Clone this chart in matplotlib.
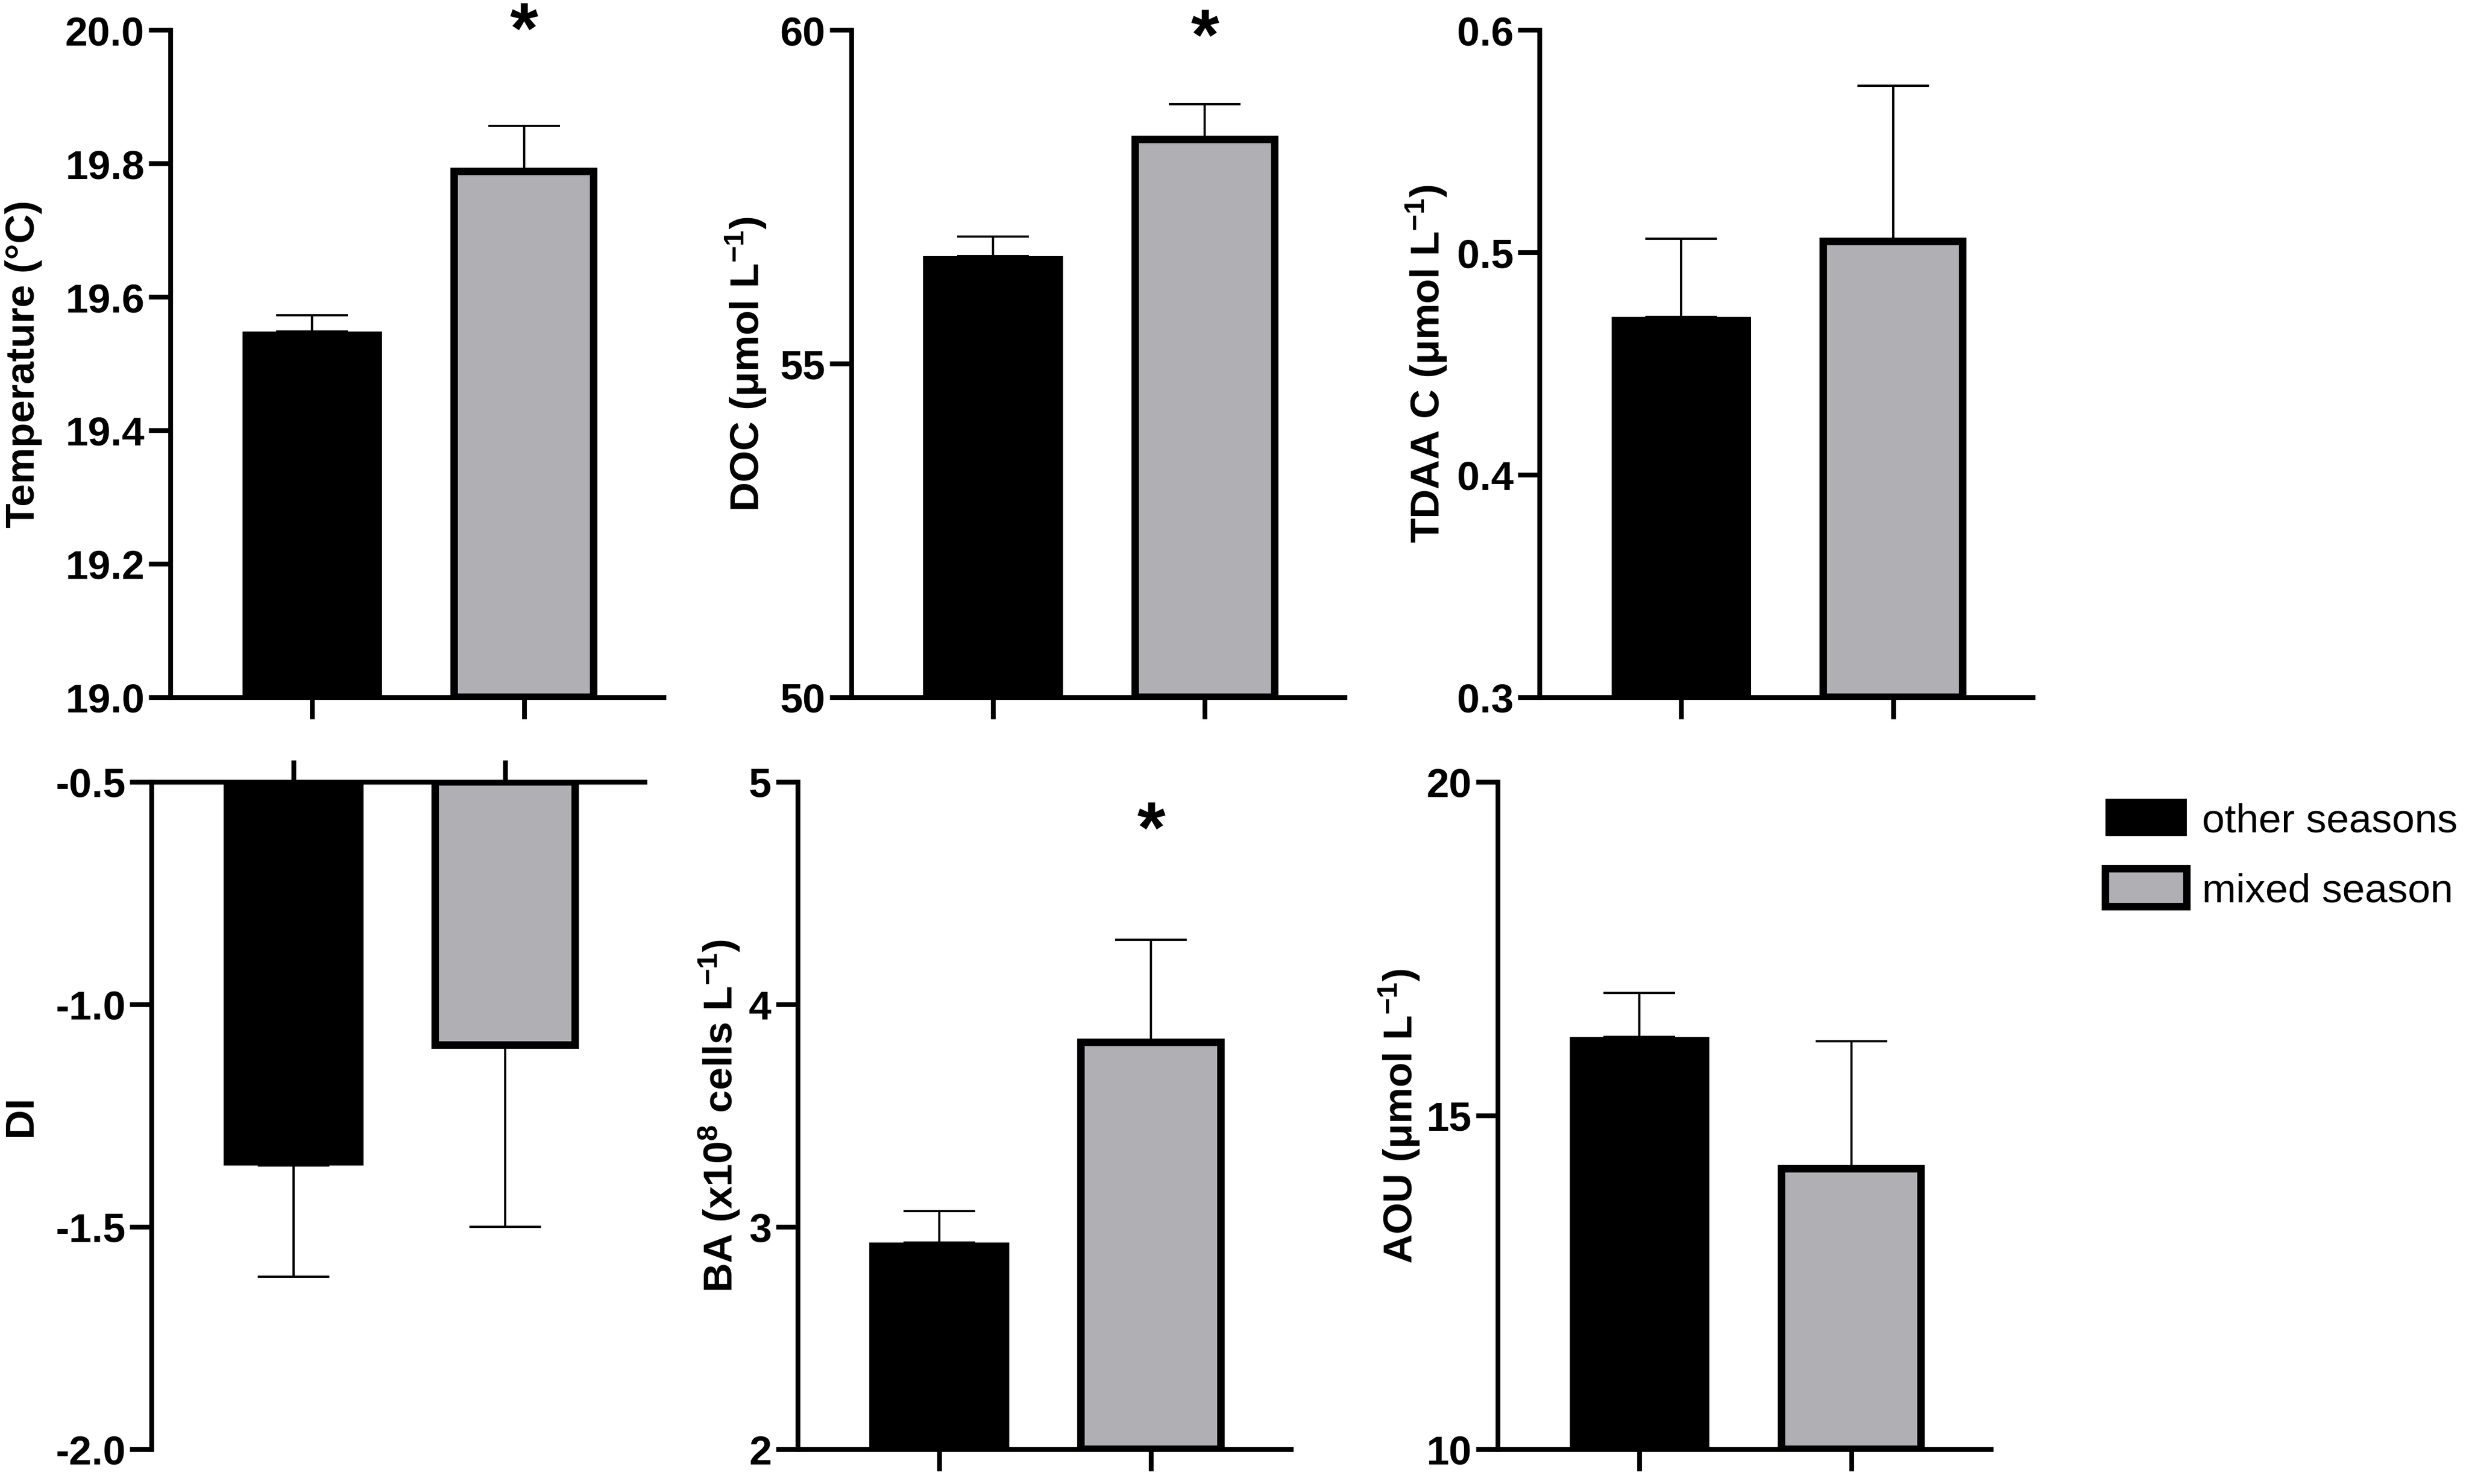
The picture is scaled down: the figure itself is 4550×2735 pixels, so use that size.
import matplotlib
matplotlib.use('Agg')
import matplotlib.pyplot as plt
from matplotlib.patches import Patch
from matplotlib.ticker import FormatStrFormatter

# fonts: Arial-like bold everywhere, mathtext for superscripts
plt.rcParams['font.family'] = ['Liberation Sans', 'DejaVu Sans']
plt.rcParams['font.weight'] = 'bold'
plt.rcParams['axes.unicode_minus'] = False
plt.rcParams['mathtext.fontset'] = 'custom'
plt.rcParams['mathtext.rm'] = 'Liberation Sans:bold'
plt.rcParams['mathtext.it'] = 'Liberation Sans:bold'
plt.rcParams['mathtext.bf'] = 'Liberation Sans:bold'

# data
groups = ['other seasons', 'mixed season']
bar_colors = ['#000000', '#b0afb4']

temp_mean = [19.548, 19.788]
temp_err = [0.024, 0.068]
doc_mean = [56.61, 58.36]
doc_err = [0.29, 0.53]
tdaa_mean = [0.471, 0.505]
tdaa_err = [0.035, 0.070]
di_mean = [-1.362, -1.092]
di_err = [0.250, 0.408]
ba_mean = [2.93, 3.83]
ba_err = [0.14, 0.46]
aou_mean = [16.18, 14.20]
aou_err = [0.66, 1.91]

# significance stars (which bar, y of star)
temp_star = [(1, 19.995)]
doc_star = [(1, 59.85)]
ba_star = [(1, 4.77)]

panels = [
    # label, mean, err, ylim, yticks, fmt, stars, labelpad, axes rect
    ('Temperature (°C)', temp_mean, temp_err, (19.0, 20.0), [19.0, 19.2, 19.4, 19.6, 19.8, 20.0], '%.1f', temp_star, 10, [0.069, 0.530, 0.1998, 0.4495]),
    ('DOC (μmol L$^{-1}$)', doc_mean, doc_err, (50, 60), [50, 55, 60], '%d', doc_star, 5, [0.3448, 0.530, 0.1998, 0.4495]),
    ('TDAA C (μmol L$^{-1}$)', tdaa_mean, tdaa_err, (0.3, 0.6), [0.3, 0.4, 0.5, 0.6], '%.1f', [], 3.5, [0.6235, 0.530, 0.1998, 0.4495]),
    ('DI', di_mean, di_err, (-2.0, -0.5), [-2.0, -1.5, -1.0, -0.5], '%.1f', [], 7, [0.0614, 0.0234, 0.1998, 0.4496]),
    ('BA (x10$^{8}$ cells L$^{-1}$)', ba_mean, ba_err, (2, 5), [2, 3, 4, 5], '%d', ba_star, 3, [0.323, 0.0234, 0.1998, 0.4496]),
    ('AOU (μmol L$^{-1}$)', aou_mean, aou_err, (10, 20), [10, 15, 20], '%d', [], 2, [0.6066, 0.0234, 0.1998, 0.4496]),
]

fig = plt.figure(figsize=(4550 / 300, 2736 / 300), dpi=300)

xpos = [0, 1]
for label, mean, err, ylim, yticks, fmt, stars, lpad, rect in panels:
    ax = fig.add_axes(rect)
    negative = ylim[1] <= 0
    base = ylim[1] if negative else ylim[0]

    heights = [m - base for m in mean]
    ax.bar(xpos, heights, bottom=base, width=0.66, color=bar_colors,
           edgecolor='black', linewidth=[0, 3.3], zorder=3)

    # one-sided error bars
    zeros = [0, 0]
    yerr = [err, zeros] if negative else [zeros, err]
    ax.errorbar(xpos, mean, yerr=yerr, fmt='none', ecolor='black',
                elinewidth=1.0, capsize=15.8, capthick=1.0, zorder=2)

    for xi, ys in stars:
        ax.text(xi, ys, '*', ha='center', va='center', fontsize=32,
                fontweight='bold', clip_on=False)

    ax.set_xlim(-0.67, 1.66)
    ax.set_ylim(*ylim)
    ax.set_yticks(yticks)
    ax.yaxis.set_major_formatter(FormatStrFormatter(fmt))
    ax.set_xticks(xpos)
    ax.set_xticklabels([])
    ax.set_ylabel(label, fontsize=18, fontweight='bold', labelpad=lpad)

    ax.spines['right'].set_visible(False)
    if negative:
        ax.spines['bottom'].set_visible(False)
        ax.xaxis.tick_top()
    else:
        ax.spines['top'].set_visible(False)
    for s in ax.spines.values():
        s.set_linewidth(2.1)
    ax.tick_params(axis='both', direction='out', length=9.5, width=2.1,
                   labelsize=18, pad=2)
    ax.tick_params(axis='x', labeltop=False, labelbottom=False)

# legend
handles = [Patch(facecolor=bar_colors[0], edgecolor='black', linewidth=0),
           Patch(facecolor=bar_colors[1], edgecolor='black', linewidth=3.3)]
fig.legend(handles, groups, loc='center left', bbox_to_anchor=(0.8527, 0.4243),
           frameon=False, prop={'size': 18, 'weight': 'normal'},
           handlelength=2.0, handleheight=1.05, handletextpad=0.38,
           labelspacing=0.72, borderpad=0, borderaxespad=0)

fig.savefig('out.png', dpi=300)
